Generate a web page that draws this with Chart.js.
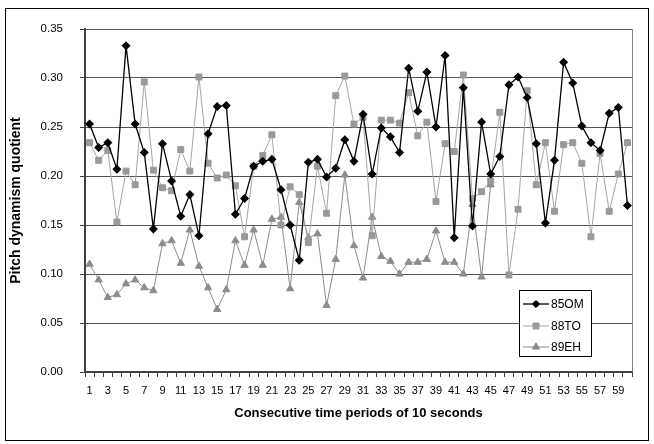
<!DOCTYPE html>
<html><head><meta charset="utf-8">
<script src="https://cdn.jsdelivr.net/npm/chart.js@4/dist/chart.umd.min.js"></script>
<style>html,body{margin:0;padding:0;background:#fff;} #wrap{width:654px;height:444px;}</style>
</head><body><div id="wrap"><canvas id="c" width="654" height="444"></canvas></div>
<script>
const categories = ['1','2','3','4','5','6','7','8','9','10','11','12','13','14','15','16','17','18','19','20',
  '21','22','23','24','25','26','27','28','29','30','31','32','33','34','35','36','37','38','39','40',
  '41','42','43','44','45','46','47','48','49','50','51','52','53','54','55','56','57','58','59','60'];

const s85OM = [0.253,0.229,0.234,0.207,0.333,0.253,0.224,0.146,0.233,0.195,
  0.159,0.181,0.139,0.243,0.271,0.272,0.161,0.177,0.210,0.215,
  0.217,0.186,0.150,0.114,0.214,0.217,0.199,0.208,0.237,0.215,
  0.263,0.202,0.249,0.240,0.224,0.310,0.266,0.306,0.250,0.323,
  0.137,0.290,0.149,0.255,0.202,0.220,0.293,0.301,0.280,0.233,
  0.152,0.216,0.316,0.295,0.251,0.234,0.226,0.264,0.270,0.170];

const s88TO = [0.234,0.216,0.226,0.153,0.205,0.191,0.296,0.206,0.188,0.185,
  0.227,0.205,0.301,0.213,0.198,0.201,0.190,0.138,0.210,0.221,
  0.242,0.150,0.189,0.181,0.132,0.210,0.162,0.282,0.302,0.253,
  0.260,0.139,0.257,0.257,0.254,0.285,0.241,0.255,0.174,0.233,
  0.225,0.303,0.177,0.184,0.195,0.265,0.099,0.166,0.287,0.191,
  0.234,0.164,0.232,0.234,0.213,0.138,0.223,0.164,0.202,0.234];

const s89EH = [0.110,0.094,0.076,0.079,0.090,0.094,0.086,0.083,0.131,0.134,
  0.111,0.145,0.108,0.086,0.064,0.084,0.134,0.109,0.145,0.109,
  0.156,0.158,0.085,0.173,0.137,0.141,0.068,0.115,0.201,0.129,
  0.096,0.158,0.118,0.113,0.100,0.112,0.112,0.115,0.144,0.112,
  0.112,0.100,0.171,0.097,0.191];

const seriesNames = ['85OM','88TO','89EH'];
const yTickStep = 0.05;
const yMax = 0.35;
const xTitle = 'Consecutive time periods of 10 seconds';
const yTitle = 'Pitch dynamism quotient';

const FONT = "'Liberation Sans', Arial, sans-serif";

const framePlugin = {
  id: 'frame',
  beforeDraw(chart) {
    const c = chart.ctx;
    c.save();
    c.fillStyle = '#fff';
    c.fillRect(0, 0, chart.width, chart.height);
    c.strokeStyle = '#000';
    c.lineWidth = 1;
    c.strokeRect(5.5, 8.5, 643, 432);
    c.restore();
  },
  afterDatasetsDraw(chart) {
    const c = chart.ctx, a = chart.chartArea;
    c.save();
    c.strokeStyle = '#808080';
    c.lineWidth = 1;
    c.beginPath();
    c.moveTo(Math.round(a.right) + 0.5, a.top);
    c.lineTo(Math.round(a.right) + 0.5, a.bottom);
    c.stroke();
    // legend
    const bx = 519.5, by = 290.5, bw = 72, bh = 66;
    c.fillStyle = '#fff';
    c.fillRect(bx, by, bw, bh);
    c.strokeStyle = '#000';
    c.strokeRect(bx, by, bw, bh);
    const ys = [304, 326, 347];
    chart.data.datasets.forEach((ds, i) => {
      const y = ys[i];
      c.strokeStyle = ds.borderColor;
      c.lineWidth = ds.borderWidth;
      c.beginPath();
      c.moveTo(523, y); c.lineTo(549, y); c.stroke();
      c.fillStyle = ds.pointBackgroundColor;
      c.strokeStyle = ds.pointBorderColor;
      c.lineWidth = 1;
      Chart.helpers.drawPoint(c, {pointStyle: ds.pointStyle, radius: ds.pointRadius, rotation: 0, borderWidth: 1}, 536, y);
      c.fillStyle = '#000';
      c.font = '12px ' + FONT;
      c.textBaseline = 'middle';
      c.textAlign = 'left';
      c.fillText(ds.label, 551, y + 1);
    });
    c.restore();
  }
};

new Chart(document.getElementById('c'), {
  type: 'line',
  data: {
    labels: categories,
    datasets: [
      {label: seriesNames[0], data: s85OM, borderColor: '#000', pointBackgroundColor: '#000', pointBorderColor: '#000',
       borderWidth: 1.3, pointStyle: 'rectRot', pointRadius: 3.6, tension: 0},
      {label: seriesNames[1], data: s88TO, borderColor: '#a6a6a6', pointBackgroundColor: '#999', pointBorderColor: '#999',
       borderWidth: 1, pointStyle: 'rect', pointRadius: 4.2, tension: 0},
      {label: seriesNames[2], data: s89EH, borderColor: '#8c8c8c', pointBackgroundColor: '#8c8c8c', pointBorderColor: '#8c8c8c',
       borderWidth: 1, pointStyle: 'triangle', pointRadius: 4.2, tension: 0}
    ]
  },
  options: {
    responsive: false, animation: false, devicePixelRatio: 1,
    layout: {padding: {left: 5, right: 22, top: 29, bottom: 0}},
    plugins: {legend: {display: false}, tooltip: {enabled: false}},
    scales: {
      x: {
        offset: true,
        grid: {offset: true, drawOnChartArea: false, tickLength: 5, color: '#404040', tickColor: '#404040'},
        border: {color: '#404040', width: 2},
        ticks: {autoSkip: false, maxRotation: 0, minRotation: 0, padding: 7, color: '#000',
          font: {family: FONT, size: 11},
          callback: (v, i) => (i % 2 === 0 ? categories[i] : '')},
        title: {display: true, text: xTitle, color: '#000', font: {family: FONT, size: 13, weight: 'bold'},
          padding: {top: 4, bottom: 23}},
        afterFit: s => { s.height = 72; }
      },
      y: {
        min: 0, max: yMax,
        grid: {color: '#555555', tickLength: 5, tickColor: '#404040'},
        border: {color: '#404040', width: 2},
        ticks: {stepSize: yTickStep, padding: 17, color: '#000', font: {family: FONT, size: 11.5},
          callback: v => Number(v).toFixed(2)},
        title: {display: true, text: yTitle, color: '#000', font: {family: FONT, size: 14, weight: 'bold'},
          padding: {top: 3, bottom: 4}},
        afterFit: s => { s.width = 80; }
      }
    }
  },
  plugins: [framePlugin]
});
</script>
</body></html>
